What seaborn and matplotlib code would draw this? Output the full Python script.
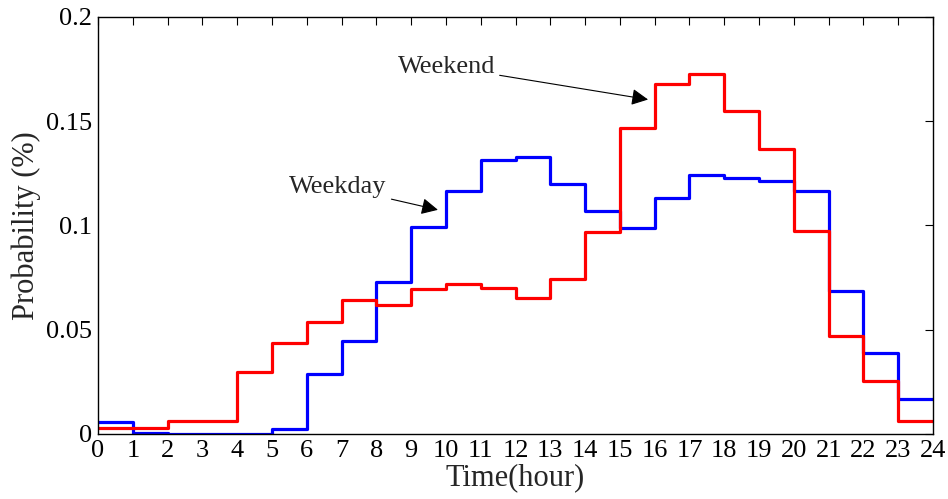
import numpy as np
import pandas as pd
import matplotlib
matplotlib.use("Agg")
import matplotlib.pyplot as plt
import seaborn as sns

hours = list(range(24))
weekday = [0.0057, 0.0006, 0.0, 0.0, 0.0, 0.0025, 0.029, 0.0446, 0.073, 0.0993,
           0.1166, 0.1315, 0.1328, 0.1199, 0.107, 0.0987, 0.1131, 0.124, 0.123,
           0.1211, 0.1163, 0.0687, 0.0386, 0.0169]
weekend = [0.003, 0.003, 0.0062, 0.0062, 0.0297, 0.0434, 0.0538, 0.0642, 0.0618,
           0.0694, 0.0718, 0.0698, 0.0653, 0.0743, 0.0968, 0.1468, 0.168, 0.1728,
           0.1548, 0.1368, 0.0974, 0.0469, 0.0254, 0.006]
xticks = list(range(25))
yticks = [0, 0.05, 0.1, 0.15, 0.2]
ytick_labels = ["0", "0.05", "0.1", "0.15", "0.2"]

sns.set_theme(style="white")
plt.rcParams["font.family"] = ["Liberation Serif", "DejaVu Serif"]
plt.rcParams["mathtext.fontset"] = "stix"

edges = hours + [24]
df = pd.DataFrame({
    "hour": edges + edges,
    "prob": weekday + [weekday[-1]] + weekend + [weekend[-1]],
    "kind": ["Weekday"] * 25 + ["Weekend"] * 25,
})

fig = plt.figure(figsize=(9.48, 4.99), dpi=100)
ax = fig.add_axes([0.1034, 0.1303, 0.8808, 0.8357])

sns.lineplot(data=df, x="hour", y="prob", hue="kind",
             palette={"Weekday": "#0000ff", "Weekend": "#ff0000"},
             drawstyle="steps-post", estimator=None, sort=False,
             linewidth=2.3, legend=False, ax=ax)

ax.set_xlim(0, 24)
ax.set_ylim(0, 0.2)
ax.set_xticks(xticks)
ax.set_xticklabels([str(t) for t in xticks])
ax.set_yticks(yticks)
ax.set_yticklabels(ytick_labels)
ax.tick_params(direction="in", length=6, width=0.8, labelsize=19,
               top=True, right=True, colors="black", pad=4)
for s in ax.spines.values():
    s.set_color("black")
    s.set_linewidth(1.0)

ax.set_xlabel("Time(hour)", fontsize=22, labelpad=1)
ax.set_ylabel("Probability (%)", fontsize=22, labelpad=4)

ax.annotate("Weekday", xy=(9.77, 0.1075), xytext=(8.3, 0.1185),
            ha="right", va="center", fontsize=19,
            arrowprops=dict(arrowstyle="-|>", color="black", lw=0.8,
                            mutation_scale=25, shrinkA=1, shrinkB=0))
ax.annotate("Weekend", xy=(15.81, 0.1604), xytext=(11.41, 0.1762),
            ha="right", va="center", fontsize=19,
            arrowprops=dict(arrowstyle="-|>", color="black", lw=0.8,
                            mutation_scale=25, shrinkA=1, shrinkB=0))

fig.savefig("out.png", dpi=100)
